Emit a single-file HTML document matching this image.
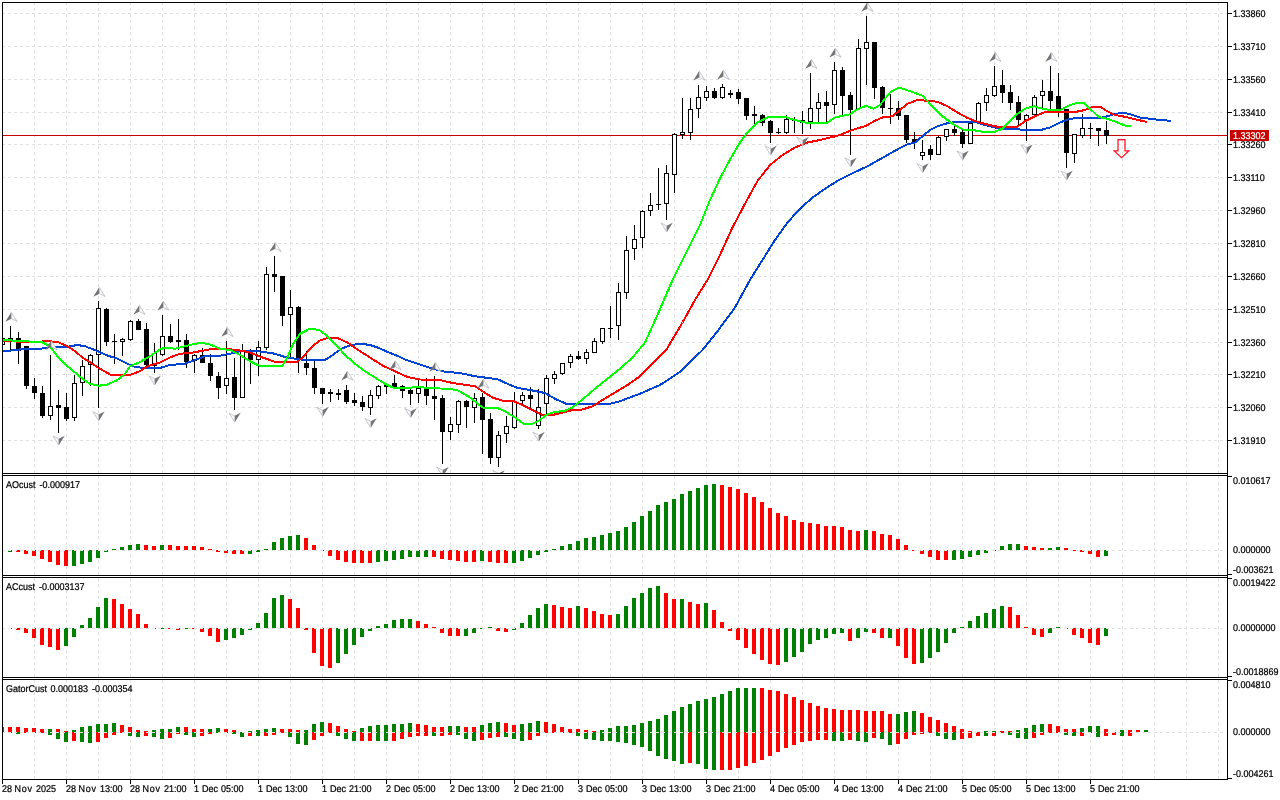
<!DOCTYPE html>
<html><head><meta charset="utf-8"><title>Chart</title>
<style>html,body{margin:0;padding:0;background:#fff;width:1280px;height:800px;overflow:hidden}</style></head>
<body>
<svg width="1280" height="800" viewBox="0 0 1280 800" style="display:block;position:absolute;left:0;top:0" font-family="'Liberation Sans', Arial, sans-serif" font-size="9px">
<defs>
<clipPath id="cm"><rect x="3" y="3" width="1224" height="470"/></clipPath>
<clipPath id="c1"><rect x="3" y="476" width="1224" height="99"/></clipPath>
<clipPath id="c2"><rect x="3" y="578" width="1224" height="99"/></clipPath>
<clipPath id="c3"><rect x="3" y="680" width="1224" height="99"/></clipPath>
</defs>
<rect x="0" y="0" width="1280" height="800" fill="#fff"/>
<g shape-rendering="crispEdges" stroke="#e1e1e1" stroke-width="1" stroke-dasharray="3 3" fill="none">
<path d="M34.5 3V473M66.5 3V473M98.5 3V473M130.5 3V473M162.5 3V473M194.5 3V473M226.5 3V473M258.5 3V473M290.5 3V473M322.5 3V473M354.5 3V473M386.5 3V473M418.5 3V473M450.5 3V473M482.5 3V473M514.5 3V473M546.5 3V473M578.5 3V473M610.5 3V473M642.5 3V473M674.5 3V473M706.5 3V473M738.5 3V473M770.5 3V473M802.5 3V473M834.5 3V473M866.5 3V473M898.5 3V473M930.5 3V473M962.5 3V473M994.5 3V473M1026.5 3V473M1058.5 3V473M1090.5 3V473M1122.5 3V473M1154.5 3V473M1186.5 3V473M1218.5 3V473" stroke-dashoffset="1"/>
<path d="M34.5 476V575M66.5 476V575M98.5 476V575M130.5 476V575M162.5 476V575M194.5 476V575M226.5 476V575M258.5 476V575M290.5 476V575M322.5 476V575M354.5 476V575M386.5 476V575M418.5 476V575M450.5 476V575M482.5 476V575M514.5 476V575M546.5 476V575M578.5 476V575M610.5 476V575M642.5 476V575M674.5 476V575M706.5 476V575M738.5 476V575M770.5 476V575M802.5 476V575M834.5 476V575M866.5 476V575M898.5 476V575M930.5 476V575M962.5 476V575M994.5 476V575M1026.5 476V575M1058.5 476V575M1090.5 476V575M1122.5 476V575M1154.5 476V575M1186.5 476V575M1218.5 476V575" stroke-dashoffset="0"/>
<path d="M34.5 578V677M66.5 578V677M98.5 578V677M130.5 578V677M162.5 578V677M194.5 578V677M226.5 578V677M258.5 578V677M290.5 578V677M322.5 578V677M354.5 578V677M386.5 578V677M418.5 578V677M450.5 578V677M482.5 578V677M514.5 578V677M546.5 578V677M578.5 578V677M610.5 578V677M642.5 578V677M674.5 578V677M706.5 578V677M738.5 578V677M770.5 578V677M802.5 578V677M834.5 578V677M866.5 578V677M898.5 578V677M930.5 578V677M962.5 578V677M994.5 578V677M1026.5 578V677M1058.5 578V677M1090.5 578V677M1122.5 578V677M1154.5 578V677M1186.5 578V677M1218.5 578V677" stroke-dashoffset="0"/>
<path d="M34.5 680V779M66.5 680V779M98.5 680V779M130.5 680V779M162.5 680V779M194.5 680V779M226.5 680V779M258.5 680V779M290.5 680V779M322.5 680V779M354.5 680V779M386.5 680V779M418.5 680V779M450.5 680V779M482.5 680V779M514.5 680V779M546.5 680V779M578.5 680V779M610.5 680V779M642.5 680V779M674.5 680V779M706.5 680V779M738.5 680V779M770.5 680V779M802.5 680V779M834.5 680V779M866.5 680V779M898.5 680V779M930.5 680V779M962.5 680V779M994.5 680V779M1026.5 680V779M1058.5 680V779M1090.5 680V779M1122.5 680V779M1154.5 680V779M1186.5 680V779M1218.5 680V779" stroke-dashoffset="0"/>
<path d="M3 13.5H1227M3 46.5H1227M3 79.5H1227M3 112.5H1227M3 144.5H1227M3 177.5H1227M3 210.5H1227M3 243.5H1227M3 276.5H1227M3 309.5H1227M3 342.5H1227M3 374.5H1227M3 407.5H1227M3 440.5H1227" stroke-dashoffset="1"/>
</g>
<g shape-rendering="crispEdges">
<rect x="3" y="135" width="1224" height="1" fill="#c80000"/>
</g>
<g shape-rendering="crispEdges" clip-path="url(#cm)">
<rect x="2" y="336" width="1" height="10" fill="#000"/>
<rect x="0" y="338" width="5" height="7" fill="#000"/>
<rect x="1" y="339" width="3" height="5" fill="#fff"/>
<rect x="10" y="326" width="1" height="24" fill="#000"/>
<rect x="8" y="338" width="5" height="4" fill="#000"/>
<rect x="9" y="339" width="3" height="2" fill="#fff"/>
<rect x="18" y="332" width="1" height="32" fill="#000"/>
<rect x="16" y="338" width="5" height="13" fill="#000"/>
<rect x="26" y="346" width="1" height="43" fill="#000"/>
<rect x="24" y="346" width="5" height="40" fill="#000"/>
<rect x="34" y="378" width="1" height="21" fill="#000"/>
<rect x="32" y="386" width="5" height="7" fill="#000"/>
<rect x="42" y="386" width="1" height="32" fill="#000"/>
<rect x="40" y="393" width="5" height="23" fill="#000"/>
<rect x="50" y="355" width="1" height="65" fill="#000"/>
<rect x="48" y="406" width="5" height="10" fill="#000"/>
<rect x="49" y="407" width="3" height="8" fill="#fff"/>
<rect x="58" y="390" width="1" height="43" fill="#000"/>
<rect x="56" y="405" width="5" height="3" fill="#000"/>
<rect x="66" y="393" width="1" height="28" fill="#000"/>
<rect x="64" y="407" width="5" height="12" fill="#000"/>
<rect x="74" y="375" width="1" height="46" fill="#000"/>
<rect x="72" y="383" width="5" height="35" fill="#000"/>
<rect x="73" y="384" width="3" height="33" fill="#fff"/>
<rect x="82" y="360" width="1" height="36" fill="#000"/>
<rect x="80" y="366" width="5" height="17" fill="#000"/>
<rect x="81" y="367" width="3" height="15" fill="#fff"/>
<rect x="90" y="354" width="1" height="32" fill="#000"/>
<rect x="88" y="355" width="5" height="10" fill="#000"/>
<rect x="89" y="356" width="3" height="8" fill="#fff"/>
<rect x="98" y="301" width="1" height="107" fill="#000"/>
<rect x="96" y="308" width="5" height="47" fill="#000"/>
<rect x="97" y="309" width="3" height="45" fill="#fff"/>
<rect x="106" y="308" width="1" height="38" fill="#000"/>
<rect x="104" y="309" width="5" height="33" fill="#000"/>
<rect x="114" y="334" width="1" height="30" fill="#000"/>
<rect x="112" y="341" width="5" height="1" fill="#000"/>
<rect x="122" y="338" width="1" height="18" fill="#000"/>
<rect x="120" y="339" width="5" height="3" fill="#000"/>
<rect x="121" y="340" width="3" height="1" fill="#fff"/>
<rect x="130" y="320" width="1" height="21" fill="#000"/>
<rect x="128" y="321" width="5" height="19" fill="#000"/>
<rect x="129" y="322" width="3" height="17" fill="#fff"/>
<rect x="138" y="319" width="1" height="11" fill="#000"/>
<rect x="136" y="321" width="5" height="9" fill="#000"/>
<rect x="146" y="323" width="1" height="45" fill="#000"/>
<rect x="144" y="329" width="5" height="36" fill="#000"/>
<rect x="154" y="343" width="1" height="30" fill="#000"/>
<rect x="152" y="353" width="5" height="13" fill="#000"/>
<rect x="153" y="354" width="3" height="11" fill="#fff"/>
<rect x="162" y="315" width="1" height="41" fill="#000"/>
<rect x="160" y="336" width="5" height="19" fill="#000"/>
<rect x="161" y="337" width="3" height="17" fill="#fff"/>
<rect x="170" y="324" width="1" height="19" fill="#000"/>
<rect x="168" y="336" width="5" height="6" fill="#000"/>
<rect x="178" y="319" width="1" height="31" fill="#000"/>
<rect x="176" y="340" width="5" height="2" fill="#000"/>
<rect x="186" y="334" width="1" height="34" fill="#000"/>
<rect x="184" y="340" width="5" height="22" fill="#000"/>
<rect x="194" y="354" width="1" height="19" fill="#000"/>
<rect x="192" y="355" width="5" height="6" fill="#000"/>
<rect x="193" y="356" width="3" height="4" fill="#fff"/>
<rect x="202" y="348" width="1" height="15" fill="#000"/>
<rect x="200" y="355" width="5" height="8" fill="#000"/>
<rect x="210" y="354" width="1" height="27" fill="#000"/>
<rect x="208" y="363" width="5" height="13" fill="#000"/>
<rect x="218" y="372" width="1" height="27" fill="#000"/>
<rect x="216" y="376" width="5" height="12" fill="#000"/>
<rect x="226" y="341" width="1" height="53" fill="#000"/>
<rect x="224" y="378" width="5" height="8" fill="#000"/>
<rect x="225" y="379" width="3" height="6" fill="#fff"/>
<rect x="234" y="358" width="1" height="52" fill="#000"/>
<rect x="232" y="377" width="5" height="21" fill="#000"/>
<rect x="242" y="344" width="1" height="54" fill="#000"/>
<rect x="240" y="350" width="5" height="48" fill="#000"/>
<rect x="241" y="351" width="3" height="46" fill="#fff"/>
<rect x="250" y="349" width="1" height="35" fill="#000"/>
<rect x="248" y="350" width="5" height="10" fill="#000"/>
<rect x="258" y="341" width="1" height="35" fill="#000"/>
<rect x="256" y="347" width="5" height="13" fill="#000"/>
<rect x="257" y="348" width="3" height="11" fill="#fff"/>
<rect x="266" y="267" width="1" height="83" fill="#000"/>
<rect x="264" y="274" width="5" height="74" fill="#000"/>
<rect x="265" y="275" width="3" height="72" fill="#fff"/>
<rect x="274" y="256" width="1" height="36" fill="#000"/>
<rect x="272" y="274" width="5" height="3" fill="#000"/>
<rect x="282" y="276" width="1" height="50" fill="#000"/>
<rect x="280" y="276" width="5" height="40" fill="#000"/>
<rect x="290" y="290" width="1" height="69" fill="#000"/>
<rect x="288" y="307" width="5" height="8" fill="#000"/>
<rect x="289" y="308" width="3" height="6" fill="#fff"/>
<rect x="298" y="306" width="1" height="67" fill="#000"/>
<rect x="296" y="307" width="5" height="52" fill="#000"/>
<rect x="306" y="351" width="1" height="24" fill="#000"/>
<rect x="304" y="363" width="5" height="5" fill="#000"/>
<rect x="314" y="361" width="1" height="33" fill="#000"/>
<rect x="312" y="368" width="5" height="20" fill="#000"/>
<rect x="322" y="388" width="1" height="16" fill="#000"/>
<rect x="320" y="388" width="5" height="6" fill="#000"/>
<rect x="330" y="389" width="1" height="13" fill="#000"/>
<rect x="328" y="392" width="5" height="2" fill="#000"/>
<rect x="338" y="389" width="1" height="11" fill="#000"/>
<rect x="336" y="393" width="5" height="2" fill="#000"/>
<rect x="346" y="385" width="1" height="19" fill="#000"/>
<rect x="344" y="390" width="5" height="12" fill="#000"/>
<rect x="354" y="393" width="1" height="13" fill="#000"/>
<rect x="352" y="400" width="5" height="3" fill="#000"/>
<rect x="362" y="396" width="1" height="15" fill="#000"/>
<rect x="360" y="402" width="5" height="5" fill="#000"/>
<rect x="370" y="390" width="1" height="25" fill="#000"/>
<rect x="368" y="395" width="5" height="13" fill="#000"/>
<rect x="369" y="396" width="3" height="11" fill="#fff"/>
<rect x="378" y="385" width="1" height="14" fill="#000"/>
<rect x="376" y="386" width="5" height="10" fill="#000"/>
<rect x="377" y="387" width="3" height="8" fill="#fff"/>
<rect x="386" y="383" width="1" height="11" fill="#000"/>
<rect x="384" y="385" width="5" height="2" fill="#000"/>
<rect x="394" y="375" width="1" height="13" fill="#000"/>
<rect x="392" y="383" width="5" height="4" fill="#000"/>
<rect x="402" y="385" width="1" height="13" fill="#000"/>
<rect x="400" y="386" width="5" height="5" fill="#000"/>
<rect x="410" y="388" width="1" height="17" fill="#000"/>
<rect x="408" y="390" width="5" height="4" fill="#000"/>
<rect x="418" y="380" width="1" height="23" fill="#000"/>
<rect x="416" y="388" width="5" height="6" fill="#000"/>
<rect x="417" y="389" width="3" height="4" fill="#fff"/>
<rect x="426" y="378" width="1" height="27" fill="#000"/>
<rect x="424" y="389" width="5" height="7" fill="#000"/>
<rect x="434" y="376" width="1" height="44" fill="#000"/>
<rect x="432" y="396" width="5" height="3" fill="#000"/>
<rect x="442" y="395" width="1" height="69" fill="#000"/>
<rect x="440" y="398" width="5" height="34" fill="#000"/>
<rect x="450" y="417" width="1" height="23" fill="#000"/>
<rect x="448" y="424" width="5" height="8" fill="#000"/>
<rect x="449" y="425" width="3" height="6" fill="#fff"/>
<rect x="458" y="400" width="1" height="33" fill="#000"/>
<rect x="456" y="401" width="5" height="24" fill="#000"/>
<rect x="457" y="402" width="3" height="22" fill="#fff"/>
<rect x="466" y="400" width="1" height="28" fill="#000"/>
<rect x="464" y="401" width="5" height="6" fill="#000"/>
<rect x="474" y="393" width="1" height="30" fill="#000"/>
<rect x="472" y="398" width="5" height="10" fill="#000"/>
<rect x="473" y="399" width="3" height="8" fill="#fff"/>
<rect x="482" y="393" width="1" height="61" fill="#000"/>
<rect x="480" y="397" width="5" height="23" fill="#000"/>
<rect x="490" y="413" width="1" height="51" fill="#000"/>
<rect x="488" y="419" width="5" height="39" fill="#000"/>
<rect x="498" y="431" width="1" height="36" fill="#000"/>
<rect x="496" y="435" width="5" height="23" fill="#000"/>
<rect x="497" y="436" width="3" height="21" fill="#fff"/>
<rect x="506" y="416" width="1" height="27" fill="#000"/>
<rect x="504" y="426" width="5" height="8" fill="#000"/>
<rect x="505" y="427" width="3" height="6" fill="#fff"/>
<rect x="514" y="392" width="1" height="37" fill="#000"/>
<rect x="512" y="401" width="5" height="27" fill="#000"/>
<rect x="513" y="402" width="3" height="25" fill="#fff"/>
<rect x="522" y="392" width="1" height="14" fill="#000"/>
<rect x="520" y="395" width="5" height="6" fill="#000"/>
<rect x="521" y="396" width="3" height="4" fill="#fff"/>
<rect x="530" y="387" width="1" height="21" fill="#000"/>
<rect x="528" y="395" width="5" height="4" fill="#000"/>
<rect x="538" y="389" width="1" height="40" fill="#000"/>
<rect x="536" y="407" width="5" height="19" fill="#000"/>
<rect x="537" y="408" width="3" height="17" fill="#fff"/>
<rect x="546" y="375" width="1" height="41" fill="#000"/>
<rect x="544" y="378" width="5" height="26" fill="#000"/>
<rect x="545" y="379" width="3" height="24" fill="#fff"/>
<rect x="554" y="371" width="1" height="13" fill="#000"/>
<rect x="552" y="374" width="5" height="5" fill="#000"/>
<rect x="553" y="375" width="3" height="3" fill="#fff"/>
<rect x="562" y="363" width="1" height="12" fill="#000"/>
<rect x="560" y="363" width="5" height="11" fill="#000"/>
<rect x="561" y="364" width="3" height="9" fill="#fff"/>
<rect x="570" y="354" width="1" height="14" fill="#000"/>
<rect x="568" y="356" width="5" height="7" fill="#000"/>
<rect x="569" y="357" width="3" height="5" fill="#fff"/>
<rect x="578" y="351" width="1" height="9" fill="#000"/>
<rect x="576" y="356" width="5" height="3" fill="#000"/>
<rect x="586" y="349" width="1" height="15" fill="#000"/>
<rect x="584" y="352" width="5" height="7" fill="#000"/>
<rect x="585" y="353" width="3" height="5" fill="#fff"/>
<rect x="594" y="338" width="1" height="15" fill="#000"/>
<rect x="592" y="341" width="5" height="12" fill="#000"/>
<rect x="593" y="342" width="3" height="10" fill="#fff"/>
<rect x="602" y="328" width="1" height="16" fill="#000"/>
<rect x="600" y="328" width="5" height="14" fill="#000"/>
<rect x="601" y="329" width="3" height="12" fill="#fff"/>
<rect x="610" y="306" width="1" height="32" fill="#000"/>
<rect x="608" y="328" width="5" height="1" fill="#000"/>
<rect x="618" y="283" width="1" height="57" fill="#000"/>
<rect x="616" y="292" width="5" height="34" fill="#000"/>
<rect x="617" y="293" width="3" height="32" fill="#fff"/>
<rect x="626" y="236" width="1" height="63" fill="#000"/>
<rect x="624" y="250" width="5" height="43" fill="#000"/>
<rect x="625" y="251" width="3" height="41" fill="#fff"/>
<rect x="634" y="225" width="1" height="35" fill="#000"/>
<rect x="632" y="239" width="5" height="10" fill="#000"/>
<rect x="633" y="240" width="3" height="8" fill="#fff"/>
<rect x="642" y="210" width="1" height="38" fill="#000"/>
<rect x="640" y="211" width="5" height="27" fill="#000"/>
<rect x="641" y="212" width="3" height="25" fill="#fff"/>
<rect x="650" y="193" width="1" height="23" fill="#000"/>
<rect x="648" y="205" width="5" height="6" fill="#000"/>
<rect x="649" y="206" width="3" height="4" fill="#fff"/>
<rect x="658" y="168" width="1" height="42" fill="#000"/>
<rect x="656" y="204" width="5" height="1" fill="#000"/>
<rect x="666" y="165" width="1" height="55" fill="#000"/>
<rect x="664" y="173" width="5" height="31" fill="#000"/>
<rect x="665" y="174" width="3" height="29" fill="#fff"/>
<rect x="674" y="133" width="1" height="60" fill="#000"/>
<rect x="672" y="134" width="5" height="41" fill="#000"/>
<rect x="673" y="135" width="3" height="39" fill="#fff"/>
<rect x="682" y="98" width="1" height="41" fill="#000"/>
<rect x="680" y="132" width="5" height="3" fill="#000"/>
<rect x="681" y="133" width="3" height="1" fill="#fff"/>
<rect x="690" y="98" width="1" height="42" fill="#000"/>
<rect x="688" y="109" width="5" height="24" fill="#000"/>
<rect x="689" y="110" width="3" height="22" fill="#fff"/>
<rect x="698" y="85" width="1" height="33" fill="#000"/>
<rect x="696" y="97" width="5" height="12" fill="#000"/>
<rect x="697" y="98" width="3" height="10" fill="#fff"/>
<rect x="706" y="86" width="1" height="15" fill="#000"/>
<rect x="704" y="91" width="5" height="7" fill="#000"/>
<rect x="705" y="92" width="3" height="5" fill="#fff"/>
<rect x="714" y="88" width="1" height="11" fill="#000"/>
<rect x="712" y="91" width="5" height="7" fill="#000"/>
<rect x="722" y="84" width="1" height="15" fill="#000"/>
<rect x="720" y="87" width="5" height="11" fill="#000"/>
<rect x="721" y="88" width="3" height="9" fill="#fff"/>
<rect x="730" y="90" width="1" height="8" fill="#000"/>
<rect x="728" y="93" width="5" height="2" fill="#000"/>
<rect x="738" y="89" width="1" height="15" fill="#000"/>
<rect x="736" y="92" width="5" height="7" fill="#000"/>
<rect x="746" y="98" width="1" height="22" fill="#000"/>
<rect x="744" y="98" width="5" height="18" fill="#000"/>
<rect x="754" y="106" width="1" height="19" fill="#000"/>
<rect x="752" y="114" width="5" height="2" fill="#000"/>
<rect x="762" y="114" width="1" height="12" fill="#000"/>
<rect x="760" y="115" width="5" height="8" fill="#000"/>
<rect x="770" y="120" width="1" height="23" fill="#000"/>
<rect x="768" y="121" width="5" height="12" fill="#000"/>
<rect x="778" y="128" width="1" height="6" fill="#000"/>
<rect x="776" y="132" width="5" height="1" fill="#000"/>
<rect x="786" y="115" width="1" height="19" fill="#000"/>
<rect x="784" y="119" width="5" height="14" fill="#000"/>
<rect x="785" y="120" width="3" height="12" fill="#fff"/>
<rect x="794" y="117" width="1" height="16" fill="#000"/>
<rect x="792" y="120" width="5" height="1" fill="#000"/>
<rect x="802" y="111" width="1" height="23" fill="#000"/>
<rect x="800" y="120" width="5" height="3" fill="#000"/>
<rect x="810" y="73" width="1" height="56" fill="#000"/>
<rect x="808" y="108" width="5" height="14" fill="#000"/>
<rect x="809" y="109" width="3" height="12" fill="#fff"/>
<rect x="818" y="93" width="1" height="30" fill="#000"/>
<rect x="816" y="102" width="5" height="7" fill="#000"/>
<rect x="817" y="103" width="3" height="5" fill="#fff"/>
<rect x="826" y="91" width="1" height="32" fill="#000"/>
<rect x="824" y="102" width="5" height="4" fill="#000"/>
<rect x="834" y="62" width="1" height="52" fill="#000"/>
<rect x="832" y="70" width="5" height="35" fill="#000"/>
<rect x="833" y="71" width="3" height="33" fill="#fff"/>
<rect x="842" y="67" width="1" height="48" fill="#000"/>
<rect x="840" y="70" width="5" height="26" fill="#000"/>
<rect x="850" y="92" width="1" height="63" fill="#000"/>
<rect x="848" y="95" width="5" height="15" fill="#000"/>
<rect x="858" y="39" width="1" height="70" fill="#000"/>
<rect x="856" y="48" width="5" height="61" fill="#000"/>
<rect x="857" y="49" width="3" height="59" fill="#fff"/>
<rect x="866" y="16" width="1" height="69" fill="#000"/>
<rect x="864" y="42" width="5" height="7" fill="#000"/>
<rect x="865" y="43" width="3" height="5" fill="#fff"/>
<rect x="874" y="42" width="1" height="57" fill="#000"/>
<rect x="872" y="42" width="5" height="46" fill="#000"/>
<rect x="882" y="86" width="1" height="28" fill="#000"/>
<rect x="880" y="87" width="5" height="21" fill="#000"/>
<rect x="890" y="94" width="1" height="30" fill="#000"/>
<rect x="888" y="108" width="5" height="1" fill="#000"/>
<rect x="898" y="101" width="1" height="19" fill="#000"/>
<rect x="896" y="108" width="5" height="8" fill="#000"/>
<rect x="906" y="115" width="1" height="28" fill="#000"/>
<rect x="904" y="115" width="5" height="25" fill="#000"/>
<rect x="914" y="132" width="1" height="17" fill="#000"/>
<rect x="912" y="139" width="5" height="4" fill="#000"/>
<rect x="922" y="140" width="1" height="20" fill="#000"/>
<rect x="920" y="152" width="5" height="4" fill="#000"/>
<rect x="921" y="153" width="3" height="2" fill="#fff"/>
<rect x="930" y="145" width="1" height="15" fill="#000"/>
<rect x="928" y="149" width="5" height="6" fill="#000"/>
<rect x="938" y="136" width="1" height="19" fill="#000"/>
<rect x="936" y="137" width="5" height="18" fill="#000"/>
<rect x="937" y="138" width="3" height="16" fill="#fff"/>
<rect x="946" y="129" width="1" height="12" fill="#000"/>
<rect x="944" y="129" width="5" height="8" fill="#000"/>
<rect x="945" y="130" width="3" height="6" fill="#fff"/>
<rect x="954" y="126" width="1" height="10" fill="#000"/>
<rect x="952" y="129" width="5" height="4" fill="#000"/>
<rect x="962" y="130" width="1" height="18" fill="#000"/>
<rect x="960" y="132" width="5" height="12" fill="#000"/>
<rect x="970" y="121" width="1" height="23" fill="#000"/>
<rect x="968" y="123" width="5" height="21" fill="#000"/>
<rect x="969" y="124" width="3" height="19" fill="#fff"/>
<rect x="978" y="102" width="1" height="21" fill="#000"/>
<rect x="976" y="103" width="5" height="20" fill="#000"/>
<rect x="977" y="104" width="3" height="18" fill="#fff"/>
<rect x="986" y="88" width="1" height="23" fill="#000"/>
<rect x="984" y="95" width="5" height="8" fill="#000"/>
<rect x="985" y="96" width="3" height="6" fill="#fff"/>
<rect x="994" y="66" width="1" height="31" fill="#000"/>
<rect x="992" y="86" width="5" height="10" fill="#000"/>
<rect x="993" y="87" width="3" height="8" fill="#fff"/>
<rect x="1002" y="70" width="1" height="33" fill="#000"/>
<rect x="1000" y="85" width="5" height="8" fill="#000"/>
<rect x="1010" y="85" width="1" height="25" fill="#000"/>
<rect x="1008" y="92" width="5" height="11" fill="#000"/>
<rect x="1018" y="96" width="1" height="29" fill="#000"/>
<rect x="1016" y="102" width="5" height="18" fill="#000"/>
<rect x="1026" y="114" width="1" height="27" fill="#000"/>
<rect x="1024" y="115" width="5" height="5" fill="#000"/>
<rect x="1025" y="116" width="3" height="3" fill="#fff"/>
<rect x="1034" y="95" width="1" height="21" fill="#000"/>
<rect x="1032" y="97" width="5" height="18" fill="#000"/>
<rect x="1033" y="98" width="3" height="16" fill="#fff"/>
<rect x="1042" y="80" width="1" height="29" fill="#000"/>
<rect x="1040" y="91" width="5" height="5" fill="#000"/>
<rect x="1041" y="92" width="3" height="3" fill="#fff"/>
<rect x="1050" y="66" width="1" height="43" fill="#000"/>
<rect x="1048" y="91" width="5" height="10" fill="#000"/>
<rect x="1058" y="73" width="1" height="44" fill="#000"/>
<rect x="1056" y="96" width="5" height="14" fill="#000"/>
<rect x="1066" y="109" width="1" height="59" fill="#000"/>
<rect x="1064" y="109" width="5" height="44" fill="#000"/>
<rect x="1074" y="134" width="1" height="29" fill="#000"/>
<rect x="1072" y="134" width="5" height="20" fill="#000"/>
<rect x="1073" y="135" width="3" height="18" fill="#fff"/>
<rect x="1082" y="114" width="1" height="24" fill="#000"/>
<rect x="1080" y="128" width="5" height="8" fill="#000"/>
<rect x="1081" y="129" width="3" height="6" fill="#fff"/>
<rect x="1090" y="123" width="1" height="16" fill="#000"/>
<rect x="1088" y="128" width="5" height="1" fill="#000"/>
<rect x="1098" y="128" width="1" height="18" fill="#000"/>
<rect x="1096" y="128" width="5" height="3" fill="#000"/>
<rect x="1106" y="121" width="1" height="23" fill="#000"/>
<rect x="1104" y="130" width="5" height="6" fill="#000"/>
</g>
<g clip-path="url(#cm)">
<polyline points="2.50,351.30 10.00,351.30 11.50,350.00 19.00,350.00 20.50,349.00 40.00,348.90 52.50,346.75 67.50,346.75 77.50,345.00 85.00,346.25 95.00,350.00 107.50,355.50 117.50,358.75 127.50,363.75 135.00,367.00 145.00,368.00 160.00,368.00 170.00,365.00 185.00,363.75 195.00,360.00 205.00,356.25 220.00,355.75 230.00,353.75 240.00,351.25 250.00,350.50 262.50,351.75 275.00,353.75 285.00,357.00 300.00,359.50 320.00,360.00 325.00,359.80 330.00,357.00 335.00,353.30 342.50,348.30 348.75,345.80 356.00,344.20 363.00,344.00 370.00,345.00 377.50,347.50 387.50,351.90 400.00,357.00 405.00,359.50 420.00,364.50 432.50,368.75 445.00,371.75 460.00,373.00 475.00,376.25 497.50,379.25 507.50,383.75 517.50,388.00 530.00,390.00 545.00,393.00 555.00,398.75 566.25,403.75 610.00,403.75 620.00,401.25 630.00,397.50 640.00,393.75 660.00,385.00 680.00,372.00 702.50,350.00 717.50,331.25 735.00,307.50 750.00,280.00 762.50,260.00 775.00,240.00 787.50,222.50 800.00,208.75 812.50,197.50 826.25,188.00 838.00,180.50 850.00,174.40 867.50,166.25 887.50,155.00 900.00,148.00 907.50,144.40 915.00,142.50 922.50,136.25 930.00,130.00 937.50,126.25 945.00,123.75 955.00,122.00 975.00,122.00 985.00,125.00 1000.00,128.75 1020.00,129.50 1042.50,129.50 1050.00,127.50 1060.00,122.50 1070.00,118.75 1080.00,118.00 1100.00,118.00 1107.50,116.25 1115.00,113.75 1125.00,113.00 1132.50,115.00 1140.00,117.50 1150.00,118.75 1160.00,120.00 1171.00,120.75" fill="none" stroke="#0044d4" stroke-width="2" stroke-linejoin="round" shape-rendering="crispEdges"/>
<polyline points="2.50,340.75 25.00,342.00 50.00,341.25 58.75,342.50 67.50,346.25 75.00,351.25 82.50,357.50 92.50,363.75 100.00,368.75 110.00,374.50 117.50,375.00 130.00,375.00 140.00,371.25 147.50,366.25 160.00,362.50 170.00,357.50 180.00,353.75 190.00,353.00 200.00,351.25 212.50,348.75 225.00,348.75 240.00,350.50 250.00,352.50 262.50,357.50 275.00,361.75 297.50,361.75 303.75,356.25 312.50,346.25 320.00,340.50 328.75,337.50 337.50,338.00 347.50,342.50 357.50,349.50 370.00,357.50 382.50,365.50 395.00,371.25 407.50,377.00 420.00,379.50 440.00,380.00 452.50,383.00 475.00,386.25 482.50,391.25 492.50,397.50 502.50,400.75 513.75,401.25 522.50,405.00 532.50,410.00 542.50,415.00 552.50,415.00 562.50,412.50 572.50,410.00 582.50,409.50 592.50,406.25 602.50,400.00 615.00,392.50 627.50,385.00 640.00,376.25 666.25,350.00 682.50,322.50 695.00,300.00 707.50,280.00 720.00,255.00 732.50,227.50 745.00,203.75 757.50,181.00 770.00,165.00 782.50,155.00 795.00,147.50 807.50,142.50 820.00,140.00 837.50,135.75 852.50,130.00 866.25,125.75 875.00,120.75 882.50,117.50 892.50,116.25 900.00,110.00 907.50,103.75 917.50,100.00 927.50,100.75 937.50,101.75 947.50,106.25 957.50,112.50 967.50,118.00 977.50,121.75 987.50,124.50 997.50,126.75 1017.50,126.75 1025.00,121.25 1035.00,116.25 1045.00,112.00 1060.00,112.00 1075.00,112.00 1085.00,110.00 1092.50,107.00 1100.00,106.75 1107.50,111.25 1115.00,115.00 1125.00,116.75 1135.00,119.25 1147.00,122.00" fill="none" stroke="#ff0000" stroke-width="2" stroke-linejoin="round" shape-rendering="crispEdges"/>
<polyline points="2.50,340.00 25.00,341.25 42.50,342.50 50.00,346.25 57.50,356.25 66.00,365.00 75.00,372.50 82.50,378.75 90.00,383.75 98.75,385.75 107.50,384.50 117.50,380.00 125.00,373.75 130.00,366.25 140.00,362.00 150.00,356.25 160.00,349.50 165.00,347.50 175.00,348.75 185.00,346.25 195.00,343.75 202.50,343.00 210.00,344.50 220.00,348.75 230.00,350.00 240.00,355.00 250.00,361.25 258.75,365.50 282.50,365.50 287.50,357.50 292.50,345.00 300.00,333.75 308.75,329.25 315.00,329.25 320.00,330.50 327.50,336.25 335.00,343.75 345.00,355.00 355.00,363.75 365.00,371.25 375.00,377.50 385.00,383.75 392.50,387.50 405.00,388.00 420.00,387.00 430.00,388.25 450.00,388.75 458.75,390.75 470.00,397.50 482.50,407.50 497.50,408.00 505.00,411.25 515.00,417.50 523.75,423.75 532.50,423.75 540.00,420.00 546.25,415.00 555.00,411.75 563.75,411.25 572.50,407.50 582.50,399.50 595.00,388.75 607.50,378.75 620.00,368.75 632.50,357.50 638.75,350.00 645.00,342.50 657.50,315.00 672.50,280.00 687.50,250.00 700.00,225.00 710.00,200.00 720.00,178.50 730.00,159.50 740.00,142.50 747.50,132.50 757.50,122.50 767.50,117.50 785.00,117.00 795.00,120.00 805.00,122.50 827.50,122.50 835.00,117.50 850.00,114.25 857.50,109.25 866.25,105.75 873.75,108.75 880.00,105.00 890.00,92.50 898.75,87.50 912.50,92.00 922.50,95.75 932.50,106.25 942.50,116.25 952.50,123.75 962.50,129.50 972.50,130.00 982.50,131.75 995.00,131.75 1002.50,128.75 1010.00,121.25 1017.50,113.75 1025.00,108.75 1033.75,106.25 1042.50,108.75 1050.00,110.00 1060.00,110.00 1070.00,105.00 1078.75,102.50 1083.75,103.00 1090.00,108.75 1098.75,117.00 1107.50,118.75 1117.50,122.50 1125.00,125.50 1131.00,126.25" fill="none" stroke="#00ff00" stroke-width="2" stroke-linejoin="round" shape-rendering="crispEdges"/>
</g>
<g clip-path="url(#cm)">
<path d="M11.20 312.25L5.30 321.75L11.40 318.65Z" fill="#747474"/>
<path d="M11.40 312.55L11.40 318.65L17.10 321.55Z" fill="#f8f9fb" stroke="#b0b0bc" stroke-width="0.7"/>
<path d="M51.20 340.50L45.30 350.00L51.40 346.90Z" fill="#747474"/>
<path d="M51.40 340.80L51.40 346.90L57.10 349.80Z" fill="#f8f9fb" stroke="#b0b0bc" stroke-width="0.7"/>
<path d="M99.20 287.25L93.30 296.75L99.40 293.65Z" fill="#747474"/>
<path d="M99.40 287.55L99.40 293.65L105.10 296.55Z" fill="#f8f9fb" stroke="#b0b0bc" stroke-width="0.7"/>
<path d="M139.20 305.20L133.30 314.70L139.40 311.60Z" fill="#747474"/>
<path d="M139.40 305.50L139.40 311.60L145.10 314.50Z" fill="#f8f9fb" stroke="#b0b0bc" stroke-width="0.7"/>
<path d="M163.20 301.00L157.30 310.50L163.40 307.40Z" fill="#747474"/>
<path d="M163.40 301.30L163.40 307.40L169.10 310.30Z" fill="#f8f9fb" stroke="#b0b0bc" stroke-width="0.7"/>
<path d="M227.20 327.25L221.30 336.75L227.40 333.65Z" fill="#747474"/>
<path d="M227.40 327.55L227.40 333.65L233.10 336.55Z" fill="#f8f9fb" stroke="#b0b0bc" stroke-width="0.7"/>
<path d="M275.20 242.25L269.30 251.75L275.40 248.65Z" fill="#747474"/>
<path d="M275.40 242.55L275.40 248.65L281.10 251.55Z" fill="#f8f9fb" stroke="#b0b0bc" stroke-width="0.7"/>
<path d="M347.20 371.00L341.30 380.50L347.40 377.40Z" fill="#747474"/>
<path d="M347.40 371.30L347.40 377.40L353.10 380.30Z" fill="#f8f9fb" stroke="#b0b0bc" stroke-width="0.7"/>
<path d="M395.20 360.50L389.30 370.00L395.40 366.90Z" fill="#747474"/>
<path d="M395.40 360.80L395.40 366.90L401.10 369.80Z" fill="#f8f9fb" stroke="#b0b0bc" stroke-width="0.7"/>
<path d="M435.20 362.25L429.30 371.75L435.40 368.65Z" fill="#747474"/>
<path d="M435.40 362.55L435.40 368.65L441.10 371.55Z" fill="#f8f9fb" stroke="#b0b0bc" stroke-width="0.7"/>
<path d="M483.20 379.00L477.30 388.50L483.40 385.40Z" fill="#747474"/>
<path d="M483.40 379.30L483.40 385.40L489.10 388.30Z" fill="#f8f9fb" stroke="#b0b0bc" stroke-width="0.7"/>
<path d="M699.20 71.00L693.30 80.50L699.40 77.40Z" fill="#747474"/>
<path d="M699.40 71.30L699.40 77.40L705.10 80.30Z" fill="#f8f9fb" stroke="#b0b0bc" stroke-width="0.7"/>
<path d="M723.20 70.00L717.30 79.50L723.40 76.40Z" fill="#747474"/>
<path d="M723.40 70.30L723.40 76.40L729.10 79.30Z" fill="#f8f9fb" stroke="#b0b0bc" stroke-width="0.7"/>
<path d="M811.20 59.25L805.30 68.75L811.40 65.65Z" fill="#747474"/>
<path d="M811.40 59.55L811.40 65.65L817.10 68.55Z" fill="#f8f9fb" stroke="#b0b0bc" stroke-width="0.7"/>
<path d="M835.20 48.00L829.30 57.50L835.40 54.40Z" fill="#747474"/>
<path d="M835.40 48.30L835.40 54.40L841.10 57.30Z" fill="#f8f9fb" stroke="#b0b0bc" stroke-width="0.7"/>
<path d="M867.20 2.25L861.30 11.75L867.40 8.65Z" fill="#747474"/>
<path d="M867.40 2.55L867.40 8.65L873.10 11.55Z" fill="#f8f9fb" stroke="#b0b0bc" stroke-width="0.7"/>
<path d="M995.20 52.25L989.30 61.75L995.40 58.65Z" fill="#747474"/>
<path d="M995.40 52.55L995.40 58.65L1001.10 61.55Z" fill="#f8f9fb" stroke="#b0b0bc" stroke-width="0.7"/>
<path d="M1051.20 52.25L1045.30 61.75L1051.40 58.65Z" fill="#747474"/>
<path d="M1051.40 52.55L1051.40 58.65L1057.10 61.55Z" fill="#f8f9fb" stroke="#b0b0bc" stroke-width="0.7"/>
<path d="M58.80 445.20L64.70 435.70L58.60 438.80Z" fill="#747474"/>
<path d="M58.60 444.90L58.60 438.80L52.90 435.90Z" fill="#f8f9fb" stroke="#b0b0bc" stroke-width="0.7"/>
<path d="M98.80 420.95L104.70 411.45L98.60 414.55Z" fill="#747474"/>
<path d="M98.60 420.65L98.60 414.55L92.90 411.65Z" fill="#f8f9fb" stroke="#b0b0bc" stroke-width="0.7"/>
<path d="M154.80 385.20L160.70 375.70L154.60 378.80Z" fill="#747474"/>
<path d="M154.60 384.90L154.60 378.80L148.90 375.90Z" fill="#f8f9fb" stroke="#b0b0bc" stroke-width="0.7"/>
<path d="M234.80 422.20L240.70 412.70L234.60 415.80Z" fill="#747474"/>
<path d="M234.60 421.90L234.60 415.80L228.90 412.90Z" fill="#f8f9fb" stroke="#b0b0bc" stroke-width="0.7"/>
<path d="M322.80 416.45L328.70 406.95L322.60 410.05Z" fill="#747474"/>
<path d="M322.60 416.15L322.60 410.05L316.90 407.15Z" fill="#f8f9fb" stroke="#b0b0bc" stroke-width="0.7"/>
<path d="M370.80 427.70L376.70 418.20L370.60 421.30Z" fill="#747474"/>
<path d="M370.60 427.40L370.60 421.30L364.90 418.40Z" fill="#f8f9fb" stroke="#b0b0bc" stroke-width="0.7"/>
<path d="M410.80 417.70L416.70 408.20L410.60 411.30Z" fill="#747474"/>
<path d="M410.60 417.40L410.60 411.30L404.90 408.40Z" fill="#f8f9fb" stroke="#b0b0bc" stroke-width="0.7"/>
<path d="M442.80 476.45L448.70 466.95L442.60 470.05Z" fill="#747474"/>
<path d="M442.60 476.15L442.60 470.05L436.90 467.15Z" fill="#f8f9fb" stroke="#b0b0bc" stroke-width="0.7"/>
<path d="M498.80 479.70L504.70 470.20L498.60 473.30Z" fill="#747474"/>
<path d="M498.60 479.40L498.60 473.30L492.90 470.40Z" fill="#f8f9fb" stroke="#b0b0bc" stroke-width="0.7"/>
<path d="M538.80 441.45L544.70 431.95L538.60 435.05Z" fill="#747474"/>
<path d="M538.60 441.15L538.60 435.05L532.90 432.15Z" fill="#f8f9fb" stroke="#b0b0bc" stroke-width="0.7"/>
<path d="M666.80 232.20L672.70 222.70L666.60 225.80Z" fill="#747474"/>
<path d="M666.60 231.90L666.60 225.80L660.90 222.90Z" fill="#f8f9fb" stroke="#b0b0bc" stroke-width="0.7"/>
<path d="M770.80 155.20L776.70 145.70L770.60 148.80Z" fill="#747474"/>
<path d="M770.60 154.90L770.60 148.80L764.90 145.90Z" fill="#f8f9fb" stroke="#b0b0bc" stroke-width="0.7"/>
<path d="M802.80 146.45L808.70 136.95L802.60 140.05Z" fill="#747474"/>
<path d="M802.60 146.15L802.60 140.05L796.90 137.15Z" fill="#f8f9fb" stroke="#b0b0bc" stroke-width="0.7"/>
<path d="M850.80 167.20L856.70 157.70L850.60 160.80Z" fill="#747474"/>
<path d="M850.60 166.90L850.60 160.80L844.90 157.90Z" fill="#f8f9fb" stroke="#b0b0bc" stroke-width="0.7"/>
<path d="M922.80 172.70L928.70 163.20L922.60 166.30Z" fill="#747474"/>
<path d="M922.60 172.40L922.60 166.30L916.90 163.40Z" fill="#f8f9fb" stroke="#b0b0bc" stroke-width="0.7"/>
<path d="M962.80 160.20L968.70 150.70L962.60 153.80Z" fill="#747474"/>
<path d="M962.60 159.90L962.60 153.80L956.90 150.90Z" fill="#f8f9fb" stroke="#b0b0bc" stroke-width="0.7"/>
<path d="M1026.80 153.95L1032.70 144.45L1026.60 147.55Z" fill="#747474"/>
<path d="M1026.60 153.65L1026.60 147.55L1020.90 144.65Z" fill="#f8f9fb" stroke="#b0b0bc" stroke-width="0.7"/>
<path d="M1066.80 180.20L1072.70 170.70L1066.60 173.80Z" fill="#747474"/>
<path d="M1066.60 179.90L1066.60 173.80L1060.90 170.90Z" fill="#f8f9fb" stroke="#b0b0bc" stroke-width="0.7"/>
</g>
<path d="M1118 139.7H1125V150.9H1128.8L1121.6 157.6L1114.2 150.9H1118Z" fill="none" stroke="#ff1020" stroke-width="1.25" stroke-linejoin="miter"/>
<g shape-rendering="crispEdges" clip-path="url(#c1)">
<rect x="8" y="550" width="4" height="2" fill="#008000"/>
<rect x="16" y="550" width="4" height="2" fill="#ff0000"/>
<rect x="24" y="550" width="4" height="4" fill="#ff0000"/>
<rect x="32" y="550" width="4" height="6" fill="#ff0000"/>
<rect x="40" y="550" width="4" height="9" fill="#ff0000"/>
<rect x="48" y="550" width="4" height="12" fill="#ff0000"/>
<rect x="56" y="550" width="4" height="15" fill="#ff0000"/>
<rect x="64" y="550" width="4" height="16" fill="#ff0000"/>
<rect x="72" y="550" width="4" height="16" fill="#008000"/>
<rect x="80" y="550" width="4" height="14" fill="#008000"/>
<rect x="88" y="550" width="4" height="12" fill="#008000"/>
<rect x="96" y="550" width="4" height="8" fill="#008000"/>
<rect x="104" y="550" width="4" height="2" fill="#008000"/>
<rect x="112" y="549" width="4" height="1" fill="#008000"/>
<rect x="120" y="547" width="4" height="3" fill="#008000"/>
<rect x="128" y="545" width="4" height="5" fill="#008000"/>
<rect x="136" y="544" width="4" height="6" fill="#008000"/>
<rect x="144" y="545" width="4" height="5" fill="#ff0000"/>
<rect x="152" y="546" width="4" height="4" fill="#ff0000"/>
<rect x="160" y="545" width="4" height="5" fill="#008000"/>
<rect x="168" y="545" width="4" height="5" fill="#ff0000"/>
<rect x="176" y="546" width="4" height="4" fill="#ff0000"/>
<rect x="184" y="546" width="4" height="4" fill="#ff0000"/>
<rect x="192" y="546" width="4" height="4" fill="#ff0000"/>
<rect x="200" y="547" width="4" height="3" fill="#ff0000"/>
<rect x="208" y="549" width="4" height="1" fill="#ff0000"/>
<rect x="216" y="550" width="4" height="2" fill="#ff0000"/>
<rect x="224" y="550" width="4" height="3" fill="#ff0000"/>
<rect x="232" y="550" width="4" height="4" fill="#ff0000"/>
<rect x="240" y="550" width="4" height="4" fill="#ff0000"/>
<rect x="248" y="550" width="4" height="4" fill="#008000"/>
<rect x="256" y="550" width="4" height="2" fill="#008000"/>
<rect x="264" y="549" width="4" height="1" fill="#008000"/>
<rect x="272" y="542" width="4" height="8" fill="#008000"/>
<rect x="280" y="538" width="4" height="12" fill="#008000"/>
<rect x="288" y="536" width="4" height="14" fill="#008000"/>
<rect x="296" y="535" width="4" height="15" fill="#008000"/>
<rect x="304" y="538" width="4" height="12" fill="#ff0000"/>
<rect x="312" y="545" width="4" height="5" fill="#ff0000"/>
<rect x="320" y="550" width="4" height="1" fill="#ff0000"/>
<rect x="328" y="550" width="4" height="6" fill="#ff0000"/>
<rect x="336" y="550" width="4" height="10" fill="#ff0000"/>
<rect x="344" y="550" width="4" height="12" fill="#ff0000"/>
<rect x="352" y="550" width="4" height="13" fill="#ff0000"/>
<rect x="360" y="550" width="4" height="13" fill="#ff0000"/>
<rect x="368" y="550" width="4" height="13" fill="#ff0000"/>
<rect x="376" y="550" width="4" height="12" fill="#008000"/>
<rect x="384" y="550" width="4" height="11" fill="#008000"/>
<rect x="392" y="550" width="4" height="10" fill="#008000"/>
<rect x="400" y="550" width="4" height="9" fill="#008000"/>
<rect x="408" y="550" width="4" height="7" fill="#008000"/>
<rect x="416" y="550" width="4" height="7" fill="#008000"/>
<rect x="424" y="550" width="4" height="7" fill="#008000"/>
<rect x="432" y="550" width="4" height="7" fill="#ff0000"/>
<rect x="440" y="550" width="4" height="9" fill="#ff0000"/>
<rect x="448" y="550" width="4" height="10" fill="#ff0000"/>
<rect x="456" y="550" width="4" height="11" fill="#ff0000"/>
<rect x="464" y="550" width="4" height="12" fill="#ff0000"/>
<rect x="472" y="550" width="4" height="12" fill="#ff0000"/>
<rect x="480" y="550" width="4" height="11" fill="#008000"/>
<rect x="488" y="550" width="4" height="12" fill="#ff0000"/>
<rect x="496" y="550" width="4" height="13" fill="#ff0000"/>
<rect x="504" y="550" width="4" height="13" fill="#ff0000"/>
<rect x="512" y="550" width="4" height="13" fill="#008000"/>
<rect x="520" y="550" width="4" height="11" fill="#008000"/>
<rect x="528" y="550" width="4" height="8" fill="#008000"/>
<rect x="536" y="550" width="4" height="5" fill="#008000"/>
<rect x="544" y="550" width="4" height="2" fill="#008000"/>
<rect x="552" y="549" width="4" height="1" fill="#008000"/>
<rect x="560" y="546" width="4" height="4" fill="#008000"/>
<rect x="568" y="544" width="4" height="6" fill="#008000"/>
<rect x="576" y="541" width="4" height="9" fill="#008000"/>
<rect x="584" y="538" width="4" height="12" fill="#008000"/>
<rect x="592" y="537" width="4" height="13" fill="#008000"/>
<rect x="600" y="535" width="4" height="15" fill="#008000"/>
<rect x="608" y="533" width="4" height="17" fill="#008000"/>
<rect x="616" y="531" width="4" height="19" fill="#008000"/>
<rect x="624" y="527" width="4" height="23" fill="#008000"/>
<rect x="632" y="522" width="4" height="28" fill="#008000"/>
<rect x="640" y="516" width="4" height="34" fill="#008000"/>
<rect x="648" y="511" width="4" height="39" fill="#008000"/>
<rect x="656" y="505" width="4" height="45" fill="#008000"/>
<rect x="664" y="502" width="4" height="48" fill="#008000"/>
<rect x="672" y="499" width="4" height="51" fill="#008000"/>
<rect x="680" y="494" width="4" height="56" fill="#008000"/>
<rect x="688" y="491" width="4" height="59" fill="#008000"/>
<rect x="696" y="488" width="4" height="62" fill="#008000"/>
<rect x="704" y="485" width="4" height="65" fill="#008000"/>
<rect x="712" y="484" width="4" height="66" fill="#008000"/>
<rect x="720" y="485" width="4" height="65" fill="#ff0000"/>
<rect x="728" y="487" width="4" height="63" fill="#ff0000"/>
<rect x="736" y="489" width="4" height="61" fill="#ff0000"/>
<rect x="744" y="493" width="4" height="57" fill="#ff0000"/>
<rect x="752" y="497" width="4" height="53" fill="#ff0000"/>
<rect x="760" y="502" width="4" height="48" fill="#ff0000"/>
<rect x="768" y="508" width="4" height="42" fill="#ff0000"/>
<rect x="776" y="513" width="4" height="37" fill="#ff0000"/>
<rect x="784" y="516" width="4" height="34" fill="#ff0000"/>
<rect x="792" y="520" width="4" height="30" fill="#ff0000"/>
<rect x="800" y="522" width="4" height="28" fill="#ff0000"/>
<rect x="808" y="523" width="4" height="27" fill="#ff0000"/>
<rect x="816" y="524" width="4" height="26" fill="#ff0000"/>
<rect x="824" y="526" width="4" height="24" fill="#ff0000"/>
<rect x="832" y="526" width="4" height="24" fill="#ff0000"/>
<rect x="840" y="527" width="4" height="23" fill="#ff0000"/>
<rect x="848" y="530" width="4" height="20" fill="#ff0000"/>
<rect x="856" y="531" width="4" height="19" fill="#ff0000"/>
<rect x="864" y="530" width="4" height="20" fill="#008000"/>
<rect x="872" y="531" width="4" height="19" fill="#ff0000"/>
<rect x="880" y="534" width="4" height="16" fill="#ff0000"/>
<rect x="888" y="535" width="4" height="15" fill="#ff0000"/>
<rect x="896" y="539" width="4" height="11" fill="#ff0000"/>
<rect x="904" y="545" width="4" height="5" fill="#ff0000"/>
<rect x="912" y="550" width="4" height="1" fill="#ff0000"/>
<rect x="920" y="550" width="4" height="4" fill="#ff0000"/>
<rect x="928" y="550" width="4" height="7" fill="#ff0000"/>
<rect x="936" y="550" width="4" height="10" fill="#ff0000"/>
<rect x="944" y="550" width="4" height="10" fill="#ff0000"/>
<rect x="952" y="550" width="4" height="10" fill="#008000"/>
<rect x="960" y="550" width="4" height="9" fill="#008000"/>
<rect x="968" y="550" width="4" height="7" fill="#008000"/>
<rect x="976" y="550" width="4" height="5" fill="#008000"/>
<rect x="984" y="550" width="4" height="3" fill="#008000"/>
<rect x="992" y="550" width="4" height="1" fill="#008000"/>
<rect x="1000" y="546" width="4" height="4" fill="#008000"/>
<rect x="1008" y="544" width="4" height="6" fill="#008000"/>
<rect x="1016" y="544" width="4" height="6" fill="#008000"/>
<rect x="1024" y="546" width="4" height="4" fill="#ff0000"/>
<rect x="1032" y="547" width="4" height="3" fill="#ff0000"/>
<rect x="1040" y="548" width="4" height="2" fill="#ff0000"/>
<rect x="1048" y="548" width="4" height="2" fill="#008000"/>
<rect x="1056" y="547" width="4" height="3" fill="#008000"/>
<rect x="1064" y="548" width="4" height="2" fill="#ff0000"/>
<rect x="1072" y="550" width="4" height="1" fill="#ff0000"/>
<rect x="1080" y="550" width="4" height="2" fill="#ff0000"/>
<rect x="1088" y="550" width="4" height="4" fill="#ff0000"/>
<rect x="1096" y="550" width="4" height="7" fill="#ff0000"/>
<rect x="1104" y="550" width="4" height="6" fill="#008000"/>
</g>
<g shape-rendering="crispEdges" clip-path="url(#c2)">
<rect x="8" y="628" width="4" height="1" fill="#008000"/>
<rect x="16" y="628" width="4" height="2" fill="#ff0000"/>
<rect x="24" y="628" width="4" height="5" fill="#ff0000"/>
<rect x="32" y="628" width="4" height="10" fill="#ff0000"/>
<rect x="40" y="628" width="4" height="17" fill="#ff0000"/>
<rect x="48" y="628" width="4" height="19" fill="#ff0000"/>
<rect x="56" y="628" width="4" height="22" fill="#ff0000"/>
<rect x="64" y="628" width="4" height="18" fill="#008000"/>
<rect x="72" y="628" width="4" height="9" fill="#008000"/>
<rect x="80" y="625" width="4" height="3" fill="#008000"/>
<rect x="88" y="618" width="4" height="10" fill="#008000"/>
<rect x="96" y="607" width="4" height="21" fill="#008000"/>
<rect x="104" y="598" width="4" height="30" fill="#008000"/>
<rect x="112" y="599" width="4" height="29" fill="#ff0000"/>
<rect x="120" y="604" width="4" height="24" fill="#ff0000"/>
<rect x="128" y="609" width="4" height="19" fill="#ff0000"/>
<rect x="136" y="614" width="4" height="14" fill="#ff0000"/>
<rect x="144" y="624" width="4" height="4" fill="#ff0000"/>
<rect x="152" y="628" width="4" height="1" fill="#ff0000"/>
<rect x="160" y="628" width="4" height="1" fill="#008000"/>
<rect x="168" y="628" width="4" height="1" fill="#ff0000"/>
<rect x="176" y="628" width="4" height="2" fill="#ff0000"/>
<rect x="184" y="628" width="4" height="1" fill="#008000"/>
<rect x="192" y="628" width="4" height="1" fill="#ff0000"/>
<rect x="200" y="628" width="4" height="4" fill="#ff0000"/>
<rect x="208" y="628" width="4" height="8" fill="#ff0000"/>
<rect x="216" y="628" width="4" height="14" fill="#ff0000"/>
<rect x="224" y="628" width="4" height="12" fill="#008000"/>
<rect x="232" y="628" width="4" height="10" fill="#008000"/>
<rect x="240" y="628" width="4" height="7" fill="#008000"/>
<rect x="248" y="628" width="4" height="2" fill="#008000"/>
<rect x="256" y="623" width="4" height="5" fill="#008000"/>
<rect x="264" y="613" width="4" height="15" fill="#008000"/>
<rect x="272" y="598" width="4" height="30" fill="#008000"/>
<rect x="280" y="595" width="4" height="33" fill="#008000"/>
<rect x="288" y="599" width="4" height="29" fill="#ff0000"/>
<rect x="296" y="608" width="4" height="20" fill="#ff0000"/>
<rect x="304" y="628" width="4" height="2" fill="#ff0000"/>
<rect x="312" y="628" width="4" height="25" fill="#ff0000"/>
<rect x="320" y="628" width="4" height="38" fill="#ff0000"/>
<rect x="328" y="628" width="4" height="40" fill="#ff0000"/>
<rect x="336" y="628" width="4" height="35" fill="#008000"/>
<rect x="344" y="628" width="4" height="26" fill="#008000"/>
<rect x="352" y="628" width="4" height="17" fill="#008000"/>
<rect x="360" y="628" width="4" height="9" fill="#008000"/>
<rect x="368" y="628" width="4" height="3" fill="#008000"/>
<rect x="376" y="626" width="4" height="2" fill="#008000"/>
<rect x="384" y="624" width="4" height="4" fill="#008000"/>
<rect x="392" y="620" width="4" height="8" fill="#008000"/>
<rect x="400" y="619" width="4" height="9" fill="#008000"/>
<rect x="408" y="619" width="4" height="9" fill="#008000"/>
<rect x="416" y="621" width="4" height="7" fill="#ff0000"/>
<rect x="424" y="624" width="4" height="4" fill="#ff0000"/>
<rect x="432" y="627" width="4" height="1" fill="#ff0000"/>
<rect x="440" y="628" width="4" height="5" fill="#ff0000"/>
<rect x="448" y="628" width="4" height="8" fill="#ff0000"/>
<rect x="456" y="628" width="4" height="8" fill="#ff0000"/>
<rect x="464" y="628" width="4" height="8" fill="#008000"/>
<rect x="472" y="628" width="4" height="5" fill="#008000"/>
<rect x="480" y="628" width="4" height="1" fill="#008000"/>
<rect x="488" y="627" width="4" height="1" fill="#008000"/>
<rect x="496" y="628" width="4" height="3" fill="#ff0000"/>
<rect x="504" y="628" width="4" height="4" fill="#ff0000"/>
<rect x="512" y="628" width="4" height="2" fill="#008000"/>
<rect x="520" y="623" width="4" height="5" fill="#008000"/>
<rect x="528" y="615" width="4" height="13" fill="#008000"/>
<rect x="536" y="608" width="4" height="20" fill="#008000"/>
<rect x="544" y="604" width="4" height="24" fill="#008000"/>
<rect x="552" y="605" width="4" height="23" fill="#ff0000"/>
<rect x="560" y="607" width="4" height="21" fill="#ff0000"/>
<rect x="568" y="608" width="4" height="20" fill="#ff0000"/>
<rect x="576" y="606" width="4" height="22" fill="#008000"/>
<rect x="584" y="608" width="4" height="20" fill="#ff0000"/>
<rect x="592" y="611" width="4" height="17" fill="#ff0000"/>
<rect x="600" y="614" width="4" height="14" fill="#ff0000"/>
<rect x="608" y="615" width="4" height="13" fill="#ff0000"/>
<rect x="616" y="614" width="4" height="14" fill="#008000"/>
<rect x="624" y="606" width="4" height="22" fill="#008000"/>
<rect x="632" y="598" width="4" height="30" fill="#008000"/>
<rect x="640" y="593" width="4" height="35" fill="#008000"/>
<rect x="648" y="588" width="4" height="40" fill="#008000"/>
<rect x="656" y="586" width="4" height="42" fill="#008000"/>
<rect x="664" y="593" width="4" height="35" fill="#ff0000"/>
<rect x="672" y="599" width="4" height="29" fill="#ff0000"/>
<rect x="680" y="599" width="4" height="29" fill="#008000"/>
<rect x="688" y="602" width="4" height="26" fill="#ff0000"/>
<rect x="696" y="604" width="4" height="24" fill="#ff0000"/>
<rect x="704" y="603" width="4" height="25" fill="#008000"/>
<rect x="712" y="610" width="4" height="18" fill="#ff0000"/>
<rect x="720" y="622" width="4" height="6" fill="#ff0000"/>
<rect x="728" y="628" width="4" height="3" fill="#ff0000"/>
<rect x="736" y="628" width="4" height="12" fill="#ff0000"/>
<rect x="744" y="628" width="4" height="20" fill="#ff0000"/>
<rect x="752" y="628" width="4" height="26" fill="#ff0000"/>
<rect x="760" y="628" width="4" height="32" fill="#ff0000"/>
<rect x="768" y="628" width="4" height="36" fill="#ff0000"/>
<rect x="776" y="628" width="4" height="37" fill="#ff0000"/>
<rect x="784" y="628" width="4" height="34" fill="#008000"/>
<rect x="792" y="628" width="4" height="29" fill="#008000"/>
<rect x="800" y="628" width="4" height="24" fill="#008000"/>
<rect x="808" y="628" width="4" height="16" fill="#008000"/>
<rect x="816" y="628" width="4" height="12" fill="#008000"/>
<rect x="824" y="628" width="4" height="10" fill="#008000"/>
<rect x="832" y="628" width="4" height="6" fill="#008000"/>
<rect x="840" y="628" width="4" height="5" fill="#008000"/>
<rect x="848" y="628" width="4" height="13" fill="#ff0000"/>
<rect x="856" y="628" width="4" height="10" fill="#008000"/>
<rect x="864" y="628" width="4" height="4" fill="#008000"/>
<rect x="872" y="628" width="4" height="5" fill="#ff0000"/>
<rect x="880" y="628" width="4" height="10" fill="#ff0000"/>
<rect x="888" y="628" width="4" height="10" fill="#008000"/>
<rect x="896" y="628" width="4" height="18" fill="#ff0000"/>
<rect x="904" y="628" width="4" height="30" fill="#ff0000"/>
<rect x="912" y="628" width="4" height="36" fill="#ff0000"/>
<rect x="920" y="628" width="4" height="35" fill="#008000"/>
<rect x="928" y="628" width="4" height="30" fill="#008000"/>
<rect x="936" y="628" width="4" height="24" fill="#008000"/>
<rect x="944" y="628" width="4" height="15" fill="#008000"/>
<rect x="952" y="628" width="4" height="5" fill="#008000"/>
<rect x="960" y="627" width="4" height="1" fill="#008000"/>
<rect x="968" y="621" width="4" height="7" fill="#008000"/>
<rect x="976" y="616" width="4" height="12" fill="#008000"/>
<rect x="984" y="613" width="4" height="15" fill="#008000"/>
<rect x="992" y="609" width="4" height="19" fill="#008000"/>
<rect x="1000" y="606" width="4" height="22" fill="#008000"/>
<rect x="1008" y="607" width="4" height="21" fill="#ff0000"/>
<rect x="1016" y="615" width="4" height="13" fill="#ff0000"/>
<rect x="1024" y="627" width="4" height="1" fill="#ff0000"/>
<rect x="1032" y="628" width="4" height="7" fill="#ff0000"/>
<rect x="1040" y="628" width="4" height="9" fill="#ff0000"/>
<rect x="1048" y="628" width="4" height="5" fill="#008000"/>
<rect x="1056" y="627" width="4" height="1" fill="#008000"/>
<rect x="1064" y="628" width="4" height="1" fill="#ff0000"/>
<rect x="1072" y="628" width="4" height="7" fill="#ff0000"/>
<rect x="1080" y="628" width="4" height="10" fill="#ff0000"/>
<rect x="1088" y="628" width="4" height="15" fill="#ff0000"/>
<rect x="1096" y="628" width="4" height="17" fill="#ff0000"/>
<rect x="1104" y="628" width="4" height="8" fill="#008000"/>
</g>
<g shape-rendering="crispEdges" clip-path="url(#c3)">
<rect x="0" y="732" width="4" height="1" fill="#ff0000"/>
<rect x="0" y="727" width="4" height="6" fill="#ff0000"/>
<rect x="8" y="732" width="4" height="1" fill="#ff0000"/>
<rect x="8" y="727" width="4" height="6" fill="#ff0000"/>
<rect x="16" y="732" width="4" height="2" fill="#008000"/>
<rect x="16" y="727" width="4" height="5" fill="#ff0000"/>
<rect x="24" y="732" width="4" height="1" fill="#ff0000"/>
<rect x="24" y="728" width="4" height="5" fill="#ff0000"/>
<rect x="32" y="732" width="4" height="1" fill="#008000"/>
<rect x="32" y="728" width="4" height="5" fill="#ff0000"/>
<rect x="40" y="732" width="4" height="1" fill="#ff0000"/>
<rect x="40" y="729" width="4" height="4" fill="#ff0000"/>
<rect x="48" y="732" width="4" height="3" fill="#008000"/>
<rect x="48" y="729" width="4" height="3" fill="#008000"/>
<rect x="56" y="732" width="4" height="7" fill="#008000"/>
<rect x="56" y="729" width="4" height="3" fill="#ff0000"/>
<rect x="64" y="732" width="4" height="10" fill="#008000"/>
<rect x="64" y="731" width="4" height="1" fill="#ff0000"/>
<rect x="72" y="732" width="4" height="9" fill="#ff0000"/>
<rect x="72" y="730" width="4" height="2" fill="#008000"/>
<rect x="80" y="732" width="4" height="10" fill="#008000"/>
<rect x="80" y="727" width="4" height="5" fill="#008000"/>
<rect x="88" y="732" width="4" height="11" fill="#008000"/>
<rect x="88" y="726" width="4" height="6" fill="#008000"/>
<rect x="96" y="732" width="4" height="10" fill="#ff0000"/>
<rect x="96" y="724" width="4" height="8" fill="#008000"/>
<rect x="104" y="732" width="4" height="6" fill="#ff0000"/>
<rect x="104" y="724" width="4" height="8" fill="#008000"/>
<rect x="112" y="732" width="4" height="3" fill="#ff0000"/>
<rect x="112" y="723" width="4" height="9" fill="#008000"/>
<rect x="120" y="732" width="4" height="1" fill="#ff0000"/>
<rect x="120" y="725" width="4" height="8" fill="#ff0000"/>
<rect x="128" y="732" width="4" height="4" fill="#008000"/>
<rect x="128" y="727" width="4" height="5" fill="#ff0000"/>
<rect x="136" y="732" width="4" height="5" fill="#008000"/>
<rect x="136" y="730" width="4" height="2" fill="#ff0000"/>
<rect x="144" y="732" width="4" height="4" fill="#ff0000"/>
<rect x="144" y="731" width="4" height="1" fill="#ff0000"/>
<rect x="152" y="732" width="4" height="5" fill="#008000"/>
<rect x="152" y="730" width="4" height="2" fill="#008000"/>
<rect x="160" y="732" width="4" height="7" fill="#008000"/>
<rect x="160" y="729" width="4" height="3" fill="#008000"/>
<rect x="168" y="732" width="4" height="6" fill="#ff0000"/>
<rect x="168" y="729" width="4" height="3" fill="#008000"/>
<rect x="176" y="732" width="4" height="2" fill="#ff0000"/>
<rect x="176" y="727" width="4" height="5" fill="#008000"/>
<rect x="184" y="732" width="4" height="3" fill="#008000"/>
<rect x="184" y="727" width="4" height="5" fill="#ff0000"/>
<rect x="192" y="732" width="4" height="5" fill="#008000"/>
<rect x="192" y="729" width="4" height="3" fill="#ff0000"/>
<rect x="200" y="732" width="4" height="4" fill="#ff0000"/>
<rect x="200" y="729" width="4" height="3" fill="#ff0000"/>
<rect x="208" y="732" width="4" height="2" fill="#ff0000"/>
<rect x="208" y="729" width="4" height="3" fill="#008000"/>
<rect x="216" y="732" width="4" height="1" fill="#ff0000"/>
<rect x="216" y="728" width="4" height="5" fill="#008000"/>
<rect x="224" y="732" width="4" height="1" fill="#008000"/>
<rect x="224" y="729" width="4" height="4" fill="#ff0000"/>
<rect x="232" y="732" width="4" height="2" fill="#008000"/>
<rect x="232" y="730" width="4" height="2" fill="#ff0000"/>
<rect x="240" y="732" width="4" height="5" fill="#008000"/>
<rect x="248" y="732" width="4" height="4" fill="#ff0000"/>
<rect x="248" y="731" width="4" height="1" fill="#008000"/>
<rect x="256" y="732" width="4" height="4" fill="#008000"/>
<rect x="256" y="730" width="4" height="2" fill="#008000"/>
<rect x="264" y="732" width="4" height="4" fill="#ff0000"/>
<rect x="264" y="729" width="4" height="3" fill="#008000"/>
<rect x="272" y="732" width="4" height="3" fill="#ff0000"/>
<rect x="272" y="728" width="4" height="4" fill="#008000"/>
<rect x="280" y="732" width="4" height="1" fill="#ff0000"/>
<rect x="280" y="729" width="4" height="4" fill="#ff0000"/>
<rect x="288" y="732" width="4" height="5" fill="#008000"/>
<rect x="288" y="729" width="4" height="3" fill="#ff0000"/>
<rect x="296" y="732" width="4" height="12" fill="#008000"/>
<rect x="296" y="730" width="4" height="2" fill="#ff0000"/>
<rect x="304" y="732" width="4" height="13" fill="#008000"/>
<rect x="304" y="730" width="4" height="2" fill="#008000"/>
<rect x="312" y="732" width="4" height="8" fill="#ff0000"/>
<rect x="312" y="724" width="4" height="8" fill="#008000"/>
<rect x="320" y="732" width="4" height="4" fill="#ff0000"/>
<rect x="320" y="722" width="4" height="10" fill="#008000"/>
<rect x="328" y="732" width="4" height="1" fill="#ff0000"/>
<rect x="328" y="723" width="4" height="10" fill="#ff0000"/>
<rect x="336" y="732" width="4" height="4" fill="#008000"/>
<rect x="336" y="726" width="4" height="6" fill="#ff0000"/>
<rect x="344" y="732" width="4" height="7" fill="#008000"/>
<rect x="344" y="729" width="4" height="3" fill="#ff0000"/>
<rect x="352" y="732" width="4" height="9" fill="#008000"/>
<rect x="352" y="731" width="4" height="1" fill="#ff0000"/>
<rect x="360" y="732" width="4" height="9" fill="#ff0000"/>
<rect x="360" y="728" width="4" height="4" fill="#008000"/>
<rect x="368" y="732" width="4" height="9" fill="#ff0000"/>
<rect x="368" y="726" width="4" height="6" fill="#008000"/>
<rect x="376" y="732" width="4" height="9" fill="#008000"/>
<rect x="376" y="725" width="4" height="7" fill="#008000"/>
<rect x="384" y="732" width="4" height="9" fill="#008000"/>
<rect x="384" y="725" width="4" height="7" fill="#008000"/>
<rect x="392" y="732" width="4" height="9" fill="#ff0000"/>
<rect x="392" y="724" width="4" height="8" fill="#008000"/>
<rect x="400" y="732" width="4" height="7" fill="#ff0000"/>
<rect x="400" y="724" width="4" height="8" fill="#008000"/>
<rect x="408" y="732" width="4" height="5" fill="#ff0000"/>
<rect x="408" y="723" width="4" height="9" fill="#008000"/>
<rect x="416" y="732" width="4" height="4" fill="#ff0000"/>
<rect x="416" y="724" width="4" height="8" fill="#ff0000"/>
<rect x="424" y="732" width="4" height="4" fill="#ff0000"/>
<rect x="424" y="725" width="4" height="7" fill="#ff0000"/>
<rect x="432" y="732" width="4" height="4" fill="#008000"/>
<rect x="432" y="727" width="4" height="5" fill="#ff0000"/>
<rect x="440" y="732" width="4" height="4" fill="#ff0000"/>
<rect x="440" y="727" width="4" height="5" fill="#ff0000"/>
<rect x="448" y="732" width="4" height="3" fill="#ff0000"/>
<rect x="448" y="726" width="4" height="6" fill="#008000"/>
<rect x="456" y="732" width="4" height="3" fill="#008000"/>
<rect x="456" y="726" width="4" height="6" fill="#008000"/>
<rect x="464" y="732" width="4" height="7" fill="#008000"/>
<rect x="464" y="727" width="4" height="5" fill="#ff0000"/>
<rect x="472" y="732" width="4" height="9" fill="#008000"/>
<rect x="472" y="727" width="4" height="5" fill="#ff0000"/>
<rect x="480" y="732" width="4" height="8" fill="#ff0000"/>
<rect x="480" y="725" width="4" height="7" fill="#008000"/>
<rect x="488" y="732" width="4" height="6" fill="#ff0000"/>
<rect x="488" y="723" width="4" height="9" fill="#008000"/>
<rect x="496" y="732" width="4" height="5" fill="#ff0000"/>
<rect x="496" y="722" width="4" height="10" fill="#008000"/>
<rect x="504" y="732" width="4" height="5" fill="#008000"/>
<rect x="504" y="723" width="4" height="9" fill="#ff0000"/>
<rect x="512" y="732" width="4" height="7" fill="#008000"/>
<rect x="512" y="725" width="4" height="7" fill="#ff0000"/>
<rect x="520" y="732" width="4" height="9" fill="#008000"/>
<rect x="520" y="724" width="4" height="8" fill="#008000"/>
<rect x="528" y="732" width="4" height="8" fill="#ff0000"/>
<rect x="528" y="723" width="4" height="9" fill="#008000"/>
<rect x="536" y="732" width="4" height="4" fill="#ff0000"/>
<rect x="536" y="721" width="4" height="11" fill="#008000"/>
<rect x="544" y="732" width="4" height="1" fill="#ff0000"/>
<rect x="544" y="722" width="4" height="11" fill="#ff0000"/>
<rect x="552" y="732" width="4" height="1" fill="#008000"/>
<rect x="552" y="724" width="4" height="9" fill="#ff0000"/>
<rect x="560" y="732" width="4" height="1" fill="#ff0000"/>
<rect x="560" y="727" width="4" height="6" fill="#ff0000"/>
<rect x="568" y="732" width="4" height="1" fill="#008000"/>
<rect x="568" y="729" width="4" height="4" fill="#ff0000"/>
<rect x="576" y="732" width="4" height="4" fill="#008000"/>
<rect x="576" y="729" width="4" height="3" fill="#ff0000"/>
<rect x="584" y="732" width="4" height="7" fill="#008000"/>
<rect x="584" y="730" width="4" height="2" fill="#ff0000"/>
<rect x="592" y="732" width="4" height="8" fill="#008000"/>
<rect x="592" y="731" width="4" height="1" fill="#ff0000"/>
<rect x="600" y="732" width="4" height="9" fill="#008000"/>
<rect x="600" y="730" width="4" height="2" fill="#008000"/>
<rect x="608" y="732" width="4" height="9" fill="#008000"/>
<rect x="608" y="728" width="4" height="4" fill="#008000"/>
<rect x="616" y="732" width="4" height="10" fill="#008000"/>
<rect x="616" y="726" width="4" height="6" fill="#008000"/>
<rect x="624" y="732" width="4" height="11" fill="#008000"/>
<rect x="624" y="726" width="4" height="6" fill="#008000"/>
<rect x="632" y="732" width="4" height="13" fill="#008000"/>
<rect x="632" y="725" width="4" height="7" fill="#008000"/>
<rect x="640" y="732" width="4" height="15" fill="#008000"/>
<rect x="640" y="723" width="4" height="9" fill="#008000"/>
<rect x="648" y="732" width="4" height="19" fill="#008000"/>
<rect x="648" y="721" width="4" height="11" fill="#008000"/>
<rect x="656" y="732" width="4" height="24" fill="#008000"/>
<rect x="656" y="719" width="4" height="13" fill="#008000"/>
<rect x="664" y="732" width="4" height="27" fill="#008000"/>
<rect x="664" y="715" width="4" height="17" fill="#008000"/>
<rect x="672" y="732" width="4" height="29" fill="#008000"/>
<rect x="672" y="711" width="4" height="21" fill="#008000"/>
<rect x="680" y="732" width="4" height="32" fill="#008000"/>
<rect x="680" y="707" width="4" height="25" fill="#008000"/>
<rect x="688" y="732" width="4" height="31" fill="#ff0000"/>
<rect x="688" y="704" width="4" height="28" fill="#008000"/>
<rect x="696" y="732" width="4" height="32" fill="#008000"/>
<rect x="696" y="701" width="4" height="31" fill="#008000"/>
<rect x="704" y="732" width="4" height="37" fill="#008000"/>
<rect x="704" y="699" width="4" height="33" fill="#008000"/>
<rect x="712" y="732" width="4" height="38" fill="#008000"/>
<rect x="712" y="697" width="4" height="35" fill="#008000"/>
<rect x="720" y="732" width="4" height="38" fill="#ff0000"/>
<rect x="720" y="694" width="4" height="38" fill="#008000"/>
<rect x="728" y="732" width="4" height="38" fill="#ff0000"/>
<rect x="728" y="691" width="4" height="41" fill="#008000"/>
<rect x="736" y="732" width="4" height="36" fill="#ff0000"/>
<rect x="736" y="688" width="4" height="44" fill="#008000"/>
<rect x="744" y="732" width="4" height="34" fill="#ff0000"/>
<rect x="744" y="688" width="4" height="44" fill="#008000"/>
<rect x="752" y="732" width="4" height="31" fill="#ff0000"/>
<rect x="752" y="688" width="4" height="44" fill="#008000"/>
<rect x="760" y="732" width="4" height="28" fill="#ff0000"/>
<rect x="760" y="688" width="4" height="44" fill="#ff0000"/>
<rect x="768" y="732" width="4" height="24" fill="#ff0000"/>
<rect x="768" y="690" width="4" height="42" fill="#ff0000"/>
<rect x="776" y="732" width="4" height="20" fill="#ff0000"/>
<rect x="776" y="691" width="4" height="41" fill="#ff0000"/>
<rect x="784" y="732" width="4" height="16" fill="#ff0000"/>
<rect x="784" y="694" width="4" height="38" fill="#ff0000"/>
<rect x="792" y="732" width="4" height="13" fill="#ff0000"/>
<rect x="792" y="697" width="4" height="35" fill="#ff0000"/>
<rect x="800" y="732" width="4" height="10" fill="#ff0000"/>
<rect x="800" y="700" width="4" height="32" fill="#ff0000"/>
<rect x="808" y="732" width="4" height="9" fill="#ff0000"/>
<rect x="808" y="703" width="4" height="29" fill="#ff0000"/>
<rect x="816" y="732" width="4" height="8" fill="#ff0000"/>
<rect x="816" y="706" width="4" height="26" fill="#ff0000"/>
<rect x="824" y="732" width="4" height="8" fill="#ff0000"/>
<rect x="824" y="708" width="4" height="24" fill="#ff0000"/>
<rect x="832" y="732" width="4" height="9" fill="#008000"/>
<rect x="832" y="709" width="4" height="23" fill="#ff0000"/>
<rect x="840" y="732" width="4" height="9" fill="#008000"/>
<rect x="840" y="710" width="4" height="22" fill="#ff0000"/>
<rect x="848" y="732" width="4" height="8" fill="#ff0000"/>
<rect x="848" y="710" width="4" height="22" fill="#ff0000"/>
<rect x="856" y="732" width="4" height="9" fill="#008000"/>
<rect x="856" y="710" width="4" height="22" fill="#ff0000"/>
<rect x="864" y="732" width="4" height="10" fill="#008000"/>
<rect x="864" y="711" width="4" height="21" fill="#ff0000"/>
<rect x="872" y="732" width="4" height="6" fill="#ff0000"/>
<rect x="872" y="711" width="4" height="21" fill="#ff0000"/>
<rect x="880" y="732" width="4" height="7" fill="#008000"/>
<rect x="880" y="711" width="4" height="21" fill="#ff0000"/>
<rect x="888" y="732" width="4" height="13" fill="#008000"/>
<rect x="888" y="714" width="4" height="18" fill="#ff0000"/>
<rect x="896" y="732" width="4" height="12" fill="#ff0000"/>
<rect x="896" y="714" width="4" height="18" fill="#008000"/>
<rect x="904" y="732" width="4" height="7" fill="#ff0000"/>
<rect x="904" y="712" width="4" height="20" fill="#008000"/>
<rect x="912" y="732" width="4" height="3" fill="#ff0000"/>
<rect x="912" y="711" width="4" height="21" fill="#008000"/>
<rect x="920" y="732" width="4" height="2" fill="#ff0000"/>
<rect x="920" y="713" width="4" height="19" fill="#ff0000"/>
<rect x="928" y="732" width="4" height="1" fill="#ff0000"/>
<rect x="928" y="717" width="4" height="16" fill="#ff0000"/>
<rect x="936" y="732" width="4" height="4" fill="#008000"/>
<rect x="936" y="720" width="4" height="12" fill="#ff0000"/>
<rect x="944" y="732" width="4" height="7" fill="#008000"/>
<rect x="944" y="723" width="4" height="9" fill="#ff0000"/>
<rect x="952" y="732" width="4" height="8" fill="#008000"/>
<rect x="952" y="726" width="4" height="6" fill="#ff0000"/>
<rect x="960" y="732" width="4" height="7" fill="#ff0000"/>
<rect x="960" y="729" width="4" height="3" fill="#ff0000"/>
<rect x="968" y="732" width="4" height="6" fill="#ff0000"/>
<rect x="968" y="731" width="4" height="1" fill="#ff0000"/>
<rect x="976" y="732" width="4" height="4" fill="#ff0000"/>
<rect x="984" y="732" width="4" height="4" fill="#008000"/>
<rect x="984" y="731" width="4" height="1" fill="#008000"/>
<rect x="992" y="732" width="4" height="4" fill="#ff0000"/>
<rect x="992" y="731" width="4" height="1" fill="#008000"/>
<rect x="1000" y="732" width="4" height="1" fill="#ff0000"/>
<rect x="1000" y="731" width="4" height="2" fill="#ff0000"/>
<rect x="1008" y="732" width="4" height="3" fill="#008000"/>
<rect x="1008" y="731" width="4" height="1" fill="#ff0000"/>
<rect x="1016" y="732" width="4" height="6" fill="#008000"/>
<rect x="1016" y="730" width="4" height="2" fill="#008000"/>
<rect x="1024" y="732" width="4" height="7" fill="#008000"/>
<rect x="1024" y="728" width="4" height="4" fill="#008000"/>
<rect x="1032" y="732" width="4" height="6" fill="#ff0000"/>
<rect x="1032" y="725" width="4" height="7" fill="#008000"/>
<rect x="1040" y="732" width="4" height="3" fill="#ff0000"/>
<rect x="1040" y="724" width="4" height="8" fill="#008000"/>
<rect x="1048" y="732" width="4" height="1" fill="#ff0000"/>
<rect x="1048" y="724" width="4" height="9" fill="#ff0000"/>
<rect x="1056" y="732" width="4" height="1" fill="#008000"/>
<rect x="1056" y="726" width="4" height="7" fill="#ff0000"/>
<rect x="1064" y="732" width="4" height="3" fill="#008000"/>
<rect x="1064" y="729" width="4" height="3" fill="#ff0000"/>
<rect x="1072" y="732" width="4" height="4" fill="#008000"/>
<rect x="1072" y="729" width="4" height="3" fill="#ff0000"/>
<rect x="1080" y="732" width="4" height="4" fill="#ff0000"/>
<rect x="1080" y="728" width="4" height="4" fill="#008000"/>
<rect x="1088" y="732" width="4" height="1" fill="#ff0000"/>
<rect x="1088" y="726" width="4" height="7" fill="#008000"/>
<rect x="1096" y="732" width="4" height="5" fill="#008000"/>
<rect x="1096" y="726" width="4" height="6" fill="#008000"/>
<rect x="1104" y="732" width="4" height="4" fill="#ff0000"/>
<rect x="1104" y="729" width="4" height="3" fill="#ff0000"/>
<rect x="1112" y="732" width="4" height="3" fill="#ff0000"/>
<rect x="1120" y="732" width="4" height="4" fill="#008000"/>
<rect x="1120" y="730" width="4" height="2" fill="#008000"/>
<rect x="1128" y="732" width="4" height="4" fill="#ff0000"/>
<rect x="1128" y="730" width="4" height="2" fill="#ff0000"/>
<rect x="1136" y="730" width="4" height="2" fill="#ff0000"/>
<rect x="1144" y="730" width="4" height="2" fill="#008000"/>
</g>
<g shape-rendering="crispEdges" stroke="#e1e1e1" stroke-width="1" stroke-dasharray="3 3" fill="none">
<path d="M3 550.5H1227" stroke-dashoffset="1"/>
<path d="M3 628.5H1227" stroke-dashoffset="1"/>
<path d="M3 732.5H1227" stroke-dashoffset="1"/>
</g>
<g shape-rendering="crispEdges">
<rect x="2" y="2" width="1" height="782" fill="#000"/>
<rect x="1227" y="2" width="1" height="778" fill="#000"/>
<rect x="2" y="2" width="1226" height="1" fill="#000"/>
<rect x="2" y="473" width="1226" height="1" fill="#000"/>
<rect x="2" y="475" width="1226" height="1" fill="#000"/>
<rect x="2" y="575" width="1226" height="1" fill="#000"/>
<rect x="2" y="577" width="1226" height="1" fill="#000"/>
<rect x="2" y="677" width="1226" height="1" fill="#000"/>
<rect x="2" y="679" width="1226" height="1" fill="#000"/>
<rect x="2" y="779" width="1226" height="1" fill="#000"/>
<rect x="1228" y="13" width="4" height="1" fill="#000"/>
<rect x="1228" y="46" width="4" height="1" fill="#000"/>
<rect x="1228" y="79" width="4" height="1" fill="#000"/>
<rect x="1228" y="112" width="4" height="1" fill="#000"/>
<rect x="1228" y="144" width="4" height="1" fill="#000"/>
<rect x="1228" y="177" width="4" height="1" fill="#000"/>
<rect x="1228" y="210" width="4" height="1" fill="#000"/>
<rect x="1228" y="243" width="4" height="1" fill="#000"/>
<rect x="1228" y="276" width="4" height="1" fill="#000"/>
<rect x="1228" y="309" width="4" height="1" fill="#000"/>
<rect x="1228" y="342" width="4" height="1" fill="#000"/>
<rect x="1228" y="374" width="4" height="1" fill="#000"/>
<rect x="1228" y="407" width="4" height="1" fill="#000"/>
<rect x="1228" y="440" width="4" height="1" fill="#000"/>
<rect x="1228" y="476" width="4" height="1" fill="#000"/>
<rect x="1228" y="574" width="4" height="1" fill="#000"/>
<rect x="1228" y="578" width="4" height="1" fill="#000"/>
<rect x="1228" y="676" width="4" height="1" fill="#000"/>
<rect x="1228" y="680" width="4" height="1" fill="#000"/>
<rect x="1228" y="778" width="4" height="1" fill="#000"/>
<rect x="2" y="780" width="1" height="4" fill="#000"/>
<rect x="66" y="780" width="1" height="4" fill="#000"/>
<rect x="130" y="780" width="1" height="4" fill="#000"/>
<rect x="194" y="780" width="1" height="4" fill="#000"/>
<rect x="258" y="780" width="1" height="4" fill="#000"/>
<rect x="322" y="780" width="1" height="4" fill="#000"/>
<rect x="386" y="780" width="1" height="4" fill="#000"/>
<rect x="450" y="780" width="1" height="4" fill="#000"/>
<rect x="514" y="780" width="1" height="4" fill="#000"/>
<rect x="578" y="780" width="1" height="4" fill="#000"/>
<rect x="642" y="780" width="1" height="4" fill="#000"/>
<rect x="706" y="780" width="1" height="4" fill="#000"/>
<rect x="770" y="780" width="1" height="4" fill="#000"/>
<rect x="834" y="780" width="1" height="4" fill="#000"/>
<rect x="898" y="780" width="1" height="4" fill="#000"/>
<rect x="962" y="780" width="1" height="4" fill="#000"/>
<rect x="1026" y="780" width="1" height="4" fill="#000"/>
<rect x="1090" y="780" width="1" height="4" fill="#000"/>
<rect x="1230" y="130" width="39" height="11" fill="#c80000"/>
</g>
<text transform="translate(1233 17) rotate(0.03) scale(1 1.09)" fill="#000" stroke="#000" stroke-width="0.22">1.33860</text>
<text transform="translate(1233 50) rotate(0.03) scale(1 1.09)" fill="#000" stroke="#000" stroke-width="0.22">1.33710</text>
<text transform="translate(1233 83) rotate(0.03) scale(1 1.09)" fill="#000" stroke="#000" stroke-width="0.22">1.33560</text>
<text transform="translate(1233 116) rotate(0.03) scale(1 1.09)" fill="#000" stroke="#000" stroke-width="0.22">1.33410</text>
<text transform="translate(1233 148) rotate(0.03) scale(1 1.09)" fill="#000" stroke="#000" stroke-width="0.22">1.33260</text>
<text transform="translate(1233 181) rotate(0.03) scale(1 1.09)" fill="#000" stroke="#000" stroke-width="0.22">1.33110</text>
<text transform="translate(1233 214) rotate(0.03) scale(1 1.09)" fill="#000" stroke="#000" stroke-width="0.22">1.32960</text>
<text transform="translate(1233 247) rotate(0.03) scale(1 1.09)" fill="#000" stroke="#000" stroke-width="0.22">1.32810</text>
<text transform="translate(1233 280) rotate(0.03) scale(1 1.09)" fill="#000" stroke="#000" stroke-width="0.22">1.32660</text>
<text transform="translate(1233 313) rotate(0.03) scale(1 1.09)" fill="#000" stroke="#000" stroke-width="0.22">1.32510</text>
<text transform="translate(1233 346) rotate(0.03) scale(1 1.09)" fill="#000" stroke="#000" stroke-width="0.22">1.32360</text>
<text transform="translate(1233 378) rotate(0.03) scale(1 1.09)" fill="#000" stroke="#000" stroke-width="0.22">1.32210</text>
<text transform="translate(1233 411) rotate(0.03) scale(1 1.09)" fill="#000" stroke="#000" stroke-width="0.22">1.32060</text>
<text transform="translate(1233 444) rotate(0.03) scale(1 1.09)" fill="#000" stroke="#000" stroke-width="0.22">1.31910</text>
<text transform="translate(1233 139) rotate(0.03) scale(1 1.09)" fill="#fff" stroke="#fff" stroke-width="0.22">1.33302</text>
<text transform="translate(1233 484) rotate(0.03) scale(1 1.09)" fill="#000" stroke="#000" stroke-width="0.22">0.010617</text>
<text transform="translate(1233 553) rotate(0.03) scale(1 1.09)" fill="#000" stroke="#000" stroke-width="0.22">0.000000</text>
<text transform="translate(1233 573) rotate(0.03) scale(1 1.09)" fill="#000" stroke="#000" stroke-width="0.22">-0.003621</text>
<text transform="translate(1233 586) rotate(0.03) scale(1 1.09)" fill="#000" stroke="#000" stroke-width="0.22">0.0019422</text>
<text transform="translate(1233 631) rotate(0.03) scale(1 1.09)" fill="#000" stroke="#000" stroke-width="0.22">0.0000000</text>
<text transform="translate(1233 675) rotate(0.03) scale(1 1.09)" fill="#000" stroke="#000" stroke-width="0.22">-0.0018869</text>
<text transform="translate(1233 688) rotate(0.03) scale(1 1.09)" fill="#000" stroke="#000" stroke-width="0.22">0.004810</text>
<text transform="translate(1233 735) rotate(0.03) scale(1 1.09)" fill="#000" stroke="#000" stroke-width="0.22">0.000000</text>
<text transform="translate(1233 777) rotate(0.03) scale(1 1.09)" fill="#000" stroke="#000" stroke-width="0.22">-0.004261</text>
<text transform="translate(6 488) rotate(0.03) scale(1 1.09)" fill="#000" stroke="#000" stroke-width="0.22"><tspan x="0">AOcust </tspan><tspan x="33.5">-0.000917</tspan></text>
<text transform="translate(6 590) rotate(0.03) scale(1 1.09)" fill="#000" stroke="#000" stroke-width="0.22"><tspan x="0">ACcust </tspan><tspan x="33">-0.0003137</tspan></text>
<text transform="translate(6 692) rotate(0.03) scale(1 1.09)" fill="#000" stroke="#000" stroke-width="0.22"><tspan x="0">GatorCust </tspan><tspan x="44.5">0.000183 </tspan><tspan x="86">-0.000354</tspan></text>
<text transform="translate(1 792) rotate(0.03) scale(1 1.09)" stroke="#000" stroke-width="0.22"><tspan x="1">28 </tspan><tspan x="13.5" letter-spacing="0.8">Nov </tspan><tspan x="35">2025</tspan></text>
<text transform="translate(65 792) rotate(0.03) scale(1 1.09)" stroke="#000" stroke-width="0.22"><tspan x="1">28 </tspan><tspan x="13.5" letter-spacing="0.8">Nov </tspan><tspan x="35">13:00</tspan></text>
<text transform="translate(129 792) rotate(0.03) scale(1 1.09)" stroke="#000" stroke-width="0.22"><tspan x="1">28 </tspan><tspan x="13.5" letter-spacing="0.8">Nov </tspan><tspan x="35">21:00</tspan></text>
<text transform="translate(193 792) rotate(0.03) scale(1 1.09)" fill="#000" stroke="#000" stroke-width="0.22"><tspan x="1">1 </tspan><tspan x="9">Dec </tspan><tspan x="28">05:00</tspan></text>
<text transform="translate(257 792) rotate(0.03) scale(1 1.09)" fill="#000" stroke="#000" stroke-width="0.22"><tspan x="1">1 </tspan><tspan x="9">Dec </tspan><tspan x="28">13:00</tspan></text>
<text transform="translate(321 792) rotate(0.03) scale(1 1.09)" fill="#000" stroke="#000" stroke-width="0.22"><tspan x="1">1 </tspan><tspan x="9">Dec </tspan><tspan x="28">21:00</tspan></text>
<text transform="translate(385 792) rotate(0.03) scale(1 1.09)" fill="#000" stroke="#000" stroke-width="0.22"><tspan x="1">2 </tspan><tspan x="9">Dec </tspan><tspan x="28">05:00</tspan></text>
<text transform="translate(449 792) rotate(0.03) scale(1 1.09)" fill="#000" stroke="#000" stroke-width="0.22"><tspan x="1">2 </tspan><tspan x="9">Dec </tspan><tspan x="28">13:00</tspan></text>
<text transform="translate(513 792) rotate(0.03) scale(1 1.09)" fill="#000" stroke="#000" stroke-width="0.22"><tspan x="1">2 </tspan><tspan x="9">Dec </tspan><tspan x="28">21:00</tspan></text>
<text transform="translate(577 792) rotate(0.03) scale(1 1.09)" fill="#000" stroke="#000" stroke-width="0.22"><tspan x="1">3 </tspan><tspan x="9">Dec </tspan><tspan x="28">05:00</tspan></text>
<text transform="translate(641 792) rotate(0.03) scale(1 1.09)" fill="#000" stroke="#000" stroke-width="0.22"><tspan x="1">3 </tspan><tspan x="9">Dec </tspan><tspan x="28">13:00</tspan></text>
<text transform="translate(705 792) rotate(0.03) scale(1 1.09)" fill="#000" stroke="#000" stroke-width="0.22"><tspan x="1">3 </tspan><tspan x="9">Dec </tspan><tspan x="28">21:00</tspan></text>
<text transform="translate(769 792) rotate(0.03) scale(1 1.09)" fill="#000" stroke="#000" stroke-width="0.22"><tspan x="1">4 </tspan><tspan x="9">Dec </tspan><tspan x="28">05:00</tspan></text>
<text transform="translate(833 792) rotate(0.03) scale(1 1.09)" fill="#000" stroke="#000" stroke-width="0.22"><tspan x="1">4 </tspan><tspan x="9">Dec </tspan><tspan x="28">13:00</tspan></text>
<text transform="translate(897 792) rotate(0.03) scale(1 1.09)" fill="#000" stroke="#000" stroke-width="0.22"><tspan x="1">4 </tspan><tspan x="9">Dec </tspan><tspan x="28">21:00</tspan></text>
<text transform="translate(961 792) rotate(0.03) scale(1 1.09)" fill="#000" stroke="#000" stroke-width="0.22"><tspan x="1">5 </tspan><tspan x="9">Dec </tspan><tspan x="28">05:00</tspan></text>
<text transform="translate(1025 792) rotate(0.03) scale(1 1.09)" fill="#000" stroke="#000" stroke-width="0.22"><tspan x="1">5 </tspan><tspan x="9">Dec </tspan><tspan x="28">13:00</tspan></text>
<text transform="translate(1089 792) rotate(0.03) scale(1 1.09)" fill="#000" stroke="#000" stroke-width="0.22"><tspan x="1">5 </tspan><tspan x="9">Dec </tspan><tspan x="28">21:00</tspan></text>
</svg>
</body></html>
